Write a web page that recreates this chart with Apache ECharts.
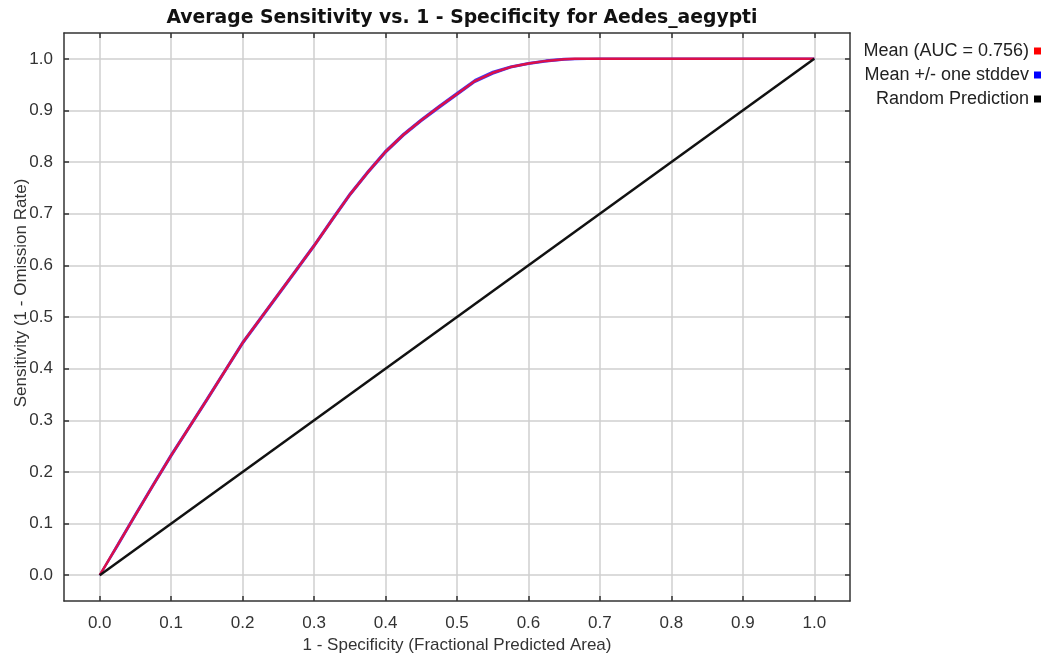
<!DOCTYPE html>
<html>
<head>
<meta charset="utf-8">
<script src="https://cdn.jsdelivr.net/npm/echarts@6/dist/echarts.min.js"></script>
<style>
html,body{margin:0;padding:0;background:#fff;}
#chart{width:1044px;height:658px;}
</style>
</head>
<body>
<div id="chart"></div>
<script>
const titleText = 'Average Sensitivity vs. 1 - Specificity for Aedes_aegypti';
const xName = '1 - Specificity (Fractional Predicted Area)';
const yName = 'Sensitivity (1 - Omission Rate)';
const tickValues = [0, 0.1, 0.2, 0.3, 0.4, 0.5, 0.6, 0.7, 0.8, 0.9, 1.0];
const fpa = [0, 0.025, 0.05, 0.075, 0.1, 0.125, 0.15, 0.175, 0.2, 0.225, 0.25, 0.275, 0.3, 0.325, 0.35, 0.375, 0.4, 0.425, 0.45, 0.475, 0.5, 0.525, 0.55, 0.575, 0.6, 0.625, 0.65, 0.665, 0.7, 0.8, 0.9, 1.0];
const meanSens = [0, 0.058, 0.117, 0.175, 0.232, 0.286, 0.340, 0.395, 0.450, 0.497, 0.544, 0.591, 0.638, 0.688, 0.737, 0.780, 0.820, 0.853, 0.881, 0.907, 0.932, 0.957, 0.973, 0.984, 0.991, 0.996, 0.999, 1.0, 1.0, 1.0, 1.0, 1.0];
const upperSens = [0, 0.060, 0.119, 0.177, 0.234, 0.288, 0.342, 0.397, 0.452, 0.499, 0.546, 0.593, 0.640, 0.690, 0.739, 0.782, 0.822, 0.855, 0.883, 0.909, 0.934, 0.959, 0.975, 0.985, 0.992, 0.997, 1.0, 1.0, 1.0, 1.0, 1.0, 1.0];
const lowerSens = [0, 0.056, 0.115, 0.173, 0.230, 0.284, 0.338, 0.393, 0.448, 0.495, 0.542, 0.589, 0.636, 0.686, 0.735, 0.778, 0.818, 0.851, 0.879, 0.905, 0.930, 0.955, 0.971, 0.983, 0.990, 0.995, 0.998, 0.999, 1.0, 1.0, 1.0, 1.0];
const randomX = [0, 1];
const randomY = [0, 1];
const legendNames = ['Mean (AUC = 0.756)', 'Mean +/- one stddev', 'Random Prediction'];

const zip = (a, b) => a.map((v, i) => [v, b[i]]);
const FONT = '"Liberation Sans", Arial, sans-serif';

const chart = echarts.init(document.getElementById('chart'));

function axisCommon(showLabel) {
  return {
    type: 'value', min: -0.05, max: 1.05,
    axisLine: { show: true, onZero: false, lineStyle: { color: '#333', width: 1.5 } },
    axisTick: { show: true, inside: true, length: 5, customValues: tickValues, lineStyle: { color: '#333', width: 1.5 } },
    axisLabel: { show: showLabel, customValues: tickValues, fontFamily: FONT, fontSize: 17, color: '#333',
      formatter: v => v.toFixed(1) },
    splitLine: { show: false }
  };
}

const option = {
  backgroundColor: '#fff',
  animation: false,
  title: {
    text: titleText, left: 457, top: 4, textAlign: 'center',
    textStyle: { fontFamily: '"DejaVu Sans", sans-serif', fontSize: 18.8, fontWeight: 'bold', color: '#111' }
  },
  legend: {
    orient: 'vertical', right: -2, top: 37, align: 'right', itemGap: 6,
    itemWidth: 7, itemHeight: 7, icon: 'rect',
    textStyle: { fontFamily: FONT, fontSize: 18, color: '#222' },
    data: legendNames
  },
  grid: { left: 64, right: 194, top: 33, bottom: 57, containLabel: false, outerBoundsMode: 'none' },
  xAxis: [
    Object.assign(axisCommon(true), {
      position: 'bottom',
      name: xName, nameLocation: 'middle', nameGap: 36, nameMoveOverlap: false,
      nameTextStyle: { fontFamily: FONT, fontSize: 17, color: '#333' },
      axisLabel: { show: true, customValues: tickValues, margin: 14, fontFamily: FONT, fontSize: 17, color: '#333', formatter: v => v.toFixed(1) },
      splitLine: { show: true, lineStyle: { color: '#cfcfcf', width: 1.5 } }
    }),
    Object.assign(axisCommon(false), { position: 'top' })
  ],
  yAxis: [
    Object.assign(axisCommon(true), {
      position: 'left',
      name: yName, nameLocation: 'middle', nameGap: 34, nameMoveOverlap: false,
      nameTextStyle: { fontFamily: FONT, fontSize: 17, color: '#333', padding: [0, 0, 0, 48] },
      axisLabel: { show: true, customValues: tickValues, margin: 11, fontFamily: FONT, fontSize: 17, color: '#333', formatter: v => v.toFixed(1) },
      splitLine: { show: true, lineStyle: { color: '#cfcfcf', width: 1.5 } }
    }),
    Object.assign(axisCommon(false), { position: 'right' })
  ],
  series: [
    {
      name: legendNames[1], type: 'line', data: zip(fpa, upperSens), showSymbol: false, symbol: 'none',
      itemStyle: { color: '#0000ff' }, lineStyle: { color: '#3a3aff', width: 2 }, z: 2
    },
    {
      name: legendNames[1], type: 'line', data: zip(fpa, lowerSens), showSymbol: false, symbol: 'none',
      itemStyle: { color: '#0000ff' }, lineStyle: { color: '#3a3aff', width: 2 }, z: 2
    },
    {
      name: legendNames[0], type: 'line', data: zip(fpa, meanSens), showSymbol: false, symbol: 'none',
      itemStyle: { color: '#ff0000' }, lineStyle: { color: '#dc1048', width: 2.5 }, z: 3
    },
    {
      name: legendNames[2], type: 'line', data: zip(randomX, randomY), showSymbol: false, symbol: 'none',
      itemStyle: { color: '#000000' }, lineStyle: { color: '#111', width: 2.5 }, z: 4
    }
  ]
};
chart.setOption(option);
</script>
</body>
</html>
